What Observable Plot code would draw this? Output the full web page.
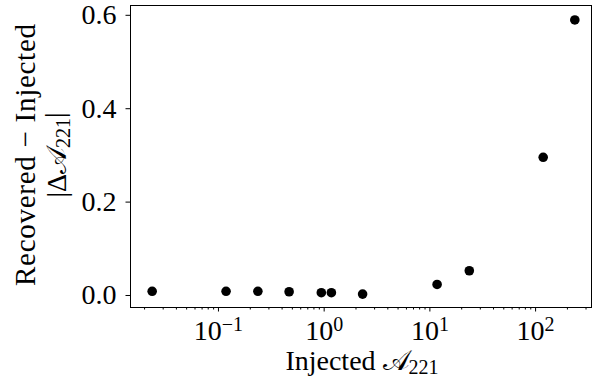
<!DOCTYPE html>
<html><head><meta charset="utf-8">
<script src="https://cdn.jsdelivr.net/npm/d3@7"></script>
<script src="https://cdn.jsdelivr.net/npm/@observablehq/plot@0.6"></script>
<style>body{margin:0;background:#fff}
svg text{font-family:'Liberation Serif','DejaVu Serif',serif;}</style>
</head><body><div id="chart"></div>
<script>
const injected = [0.0236, 0.118, 0.236, 0.466, 0.94, 1.17, 2.31, 11.7, 23.6, 118, 235];
const delta = [0.009, 0.009, 0.009, 0.008, 0.006, 0.006, 0.003, 0.0236, 0.053, 0.296, 0.590];
const xTickExponents = [-1, 0, 1, 2];
const yTicks = [0, 0.2, 0.4, 0.6];
const xLabelText = "Injected ";
const yLabelLine1 = "Recovered − Injected";
const ampSymbol = "𝒜";
const ampSub = "221";

const data = injected.map((x, i) => ({x, y: delta[i]}));
const xDomain = [0.01472, 338];
const majorTicks = xTickExponents.map(e => 10 ** e);
const minorTicks = [];
for (let e = -2; e <= 2; e++) for (let m = 2; m <= 9; m++) {
  const v = m * 10 ** e;
  if (v >= xDomain[0] && v <= xDomain[1]) minorTicks.push(v);
}

const font = "'Liberation Serif', 'DejaVu Serif', serif";
const svg = Plot.plot({
  width: 592, height: 379,
  marginLeft: 130, marginRight: 1, marginTop: 5, marginBottom: 72,
  style: {fontSize: "28px", color: "#000", background: "#fff"},
  x: {type: "log", domain: xDomain},
  y: {domain: [-0.0257, 0.621]},
  marks: [
    Plot.axisX({ticks: minorTicks, tickSize: 2.5, tickFormat: () => "", label: null}),
    Plot.axisX({ticks: majorTicks, tickSize: 4.5, tickPadding: 8,
      tickFormat: d => String(Math.round(Math.log10(d))), label: null}),
    Plot.axisY({ticks: yTicks, tickSize: 4.5, tickPadding: 9.5,
      tickFormat: d => d.toFixed(1), label: null}),
    Plot.frame({stroke: "#000", strokeWidth: 1}),
    Plot.dot(data, {x: "x", y: "y", r: 4.8, fill: "#000", stroke: "none"})
  ]
});
document.getElementById("chart").appendChild(svg);

const s = d3.select(svg);
s.selectAll("text").attr("font-family", font);
// superscript exponents on x tick labels
s.selectAll('g[aria-label="x-axis tick label"] text').each(function() {
  const t = d3.select(this);
  if (!t.text()) return;
  const e = +t.text();
  t.text("10");
  t.append("tspan").attr("dy", "-0.45em").attr("font-size", "20px")
    .text(e < 0 ? "−" + Math.abs(e) : String(e));
});

// x label
const xl = s.append("text").attr("x", 362).attr("y", 370)
  .attr("text-anchor", "middle").attr("font-family", font).attr("font-size", "28px").attr("fill", "#000");
xl.append("tspan").text(xLabelText);
xl.append("tspan").text(ampSymbol);
xl.append("tspan").attr("font-size", "20px").attr("dy", "0.22em").text(ampSub);

// y label, two lines
s.append("text").attr("transform", "translate(35,155) rotate(-90)")
  .attr("text-anchor", "middle").attr("font-family", font).attr("font-size", "29px").attr("fill", "#000")
  .attr("textLength", 262).attr("lengthAdjust", "spacing")
  .text(yLabelLine1);
const yl2 = s.append("text").attr("transform", "translate(66,155) rotate(-90)")
  .attr("text-anchor", "middle").attr("font-family", font).attr("font-size", "28px").attr("fill", "#000");
yl2.append("tspan").text("|Δ");
yl2.append("tspan").text(ampSymbol);
yl2.append("tspan").attr("font-size", "20px").attr("dy", "0.22em").text(ampSub);
yl2.append("tspan").attr("dy", "-0.22em").text("|");
</script>
</body></html>
